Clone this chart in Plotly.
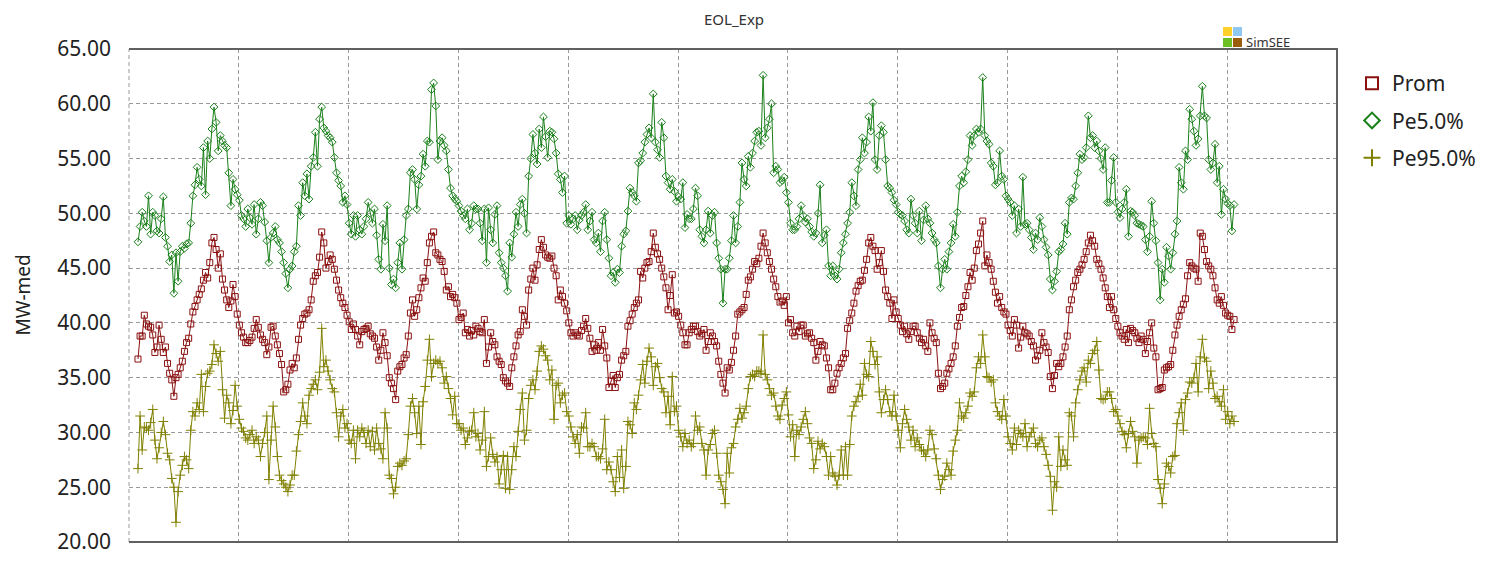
import plotly.graph_objects as go

# Weekly values, 10 years x 52 weeks (one row per year)
prom = [
    36.7, 38.8, 38.8, 40.7, 39.9, 39.7, 39.6, 38.9, 37.3, 37.8, 39.8, 38.5, 37.3, 37.8, 36.3, 35.4, 34.8, 33.3, 35.0, 35.3, 35.9, 36.5, 37.4, 38.2, 38.6, 39.9, 41.0, 41.5, 42.1, 42.6, 43.1, 43.9, 44.6, 44.1, 45.5, 47.3, 47.8, 46.7, 45.0, 46.3, 44.0, 43.0, 42.1, 41.4, 42.0, 43.5, 42.4, 40.8, 39.8, 39.1, 38.7, 38.2,
    38.2, 38.4, 38.7, 39.5, 40.3, 39.6, 38.9, 38.5, 38.2, 37.1, 37.8, 39.6, 39.7, 38.8, 38.0, 37.2, 36.2, 33.7, 33.9, 34.4, 35.7, 36.3, 35.9, 36.8, 38.5, 39.8, 40.4, 40.8, 40.9, 41.2, 42.1, 43.8, 44.3, 44.6, 46.0, 48.3, 47.3, 45.0, 45.6, 46.2, 45.8, 44.9, 43.9, 43.0, 42.3, 41.8, 41.4, 40.7, 40.1, 39.4, 39.9, 39.4,
    38.8, 38.0, 39.2, 39.4, 39.5, 39.7, 39.0, 38.8, 38.6, 37.8, 36.6, 37.5, 39.1, 38.2, 37.0, 35.0, 34.5, 34.0, 33.0, 35.6, 36.0, 36.2, 36.8, 37.1, 38.8, 40.9, 42.1, 40.6, 41.2, 42.3, 43.2, 44.1, 43.8, 45.5, 47.3, 47.9, 48.3, 46.4, 46.2, 45.8, 45.6, 44.7, 43.0, 43.3, 42.4, 42.6, 42.3, 41.8, 40.3, 40.5, 40.9, 39.1,
    39.4, 38.8, 39.3, 38.9, 39.7, 39.5, 39.2, 39.1, 40.3, 36.3, 37.8, 39.1, 38.3, 38.0, 36.9, 36.5, 36.2, 35.0, 34.7, 34.5, 34.2, 35.9, 36.9, 37.9, 38.9, 39.2, 41.2, 40.6, 39.8, 43.0, 44.0, 45.0, 43.9, 45.3, 46.7, 47.6, 46.9, 46.2, 46.0, 45.9, 46.1, 45.0, 44.3, 42.1, 43.0, 42.4, 41.8, 41.1, 40.0, 39.1, 38.8, 39.1,
    38.9, 38.8, 39.3, 39.7, 40.4, 39.5, 38.6, 37.4, 38.0, 37.5, 38.2, 37.5, 39.4, 37.9, 36.8, 34.1, 34.7, 35.2, 34.1, 35.0, 35.3, 36.6, 37.0, 37.4, 39.7, 40.2, 40.8, 41.4, 41.8, 42.1, 44.7, 44.1, 45.0, 45.5, 45.6, 46.5, 48.2, 46.9, 46.3, 45.8, 45.0, 44.2, 43.2, 41.2, 42.5, 44.4, 40.9, 41.0, 40.6, 39.8, 39.1, 38.0,
    38.0, 39.1, 39.4, 39.7, 39.7, 39.2, 38.8, 39.0, 39.4, 37.5, 38.3, 39.1, 38.8, 38.3, 37.9, 36.5, 35.3, 34.5, 33.6, 35.9, 35.7, 36.4, 37.5, 38.8, 40.8, 41.0, 41.2, 41.4, 42.6, 43.9, 44.2, 44.9, 45.6, 45.4, 45.9, 47.0, 48.2, 47.3, 46.4, 45.6, 44.9, 44.0, 43.3, 42.4, 41.9, 42.0, 41.6, 42.4, 40.0, 40.3, 39.1, 38.8,
    39.7, 39.2, 39.8, 39.8, 38.8, 39.0, 39.1, 38.6, 38.2, 36.6, 37.4, 38.3, 38.0, 37.9, 36.8, 35.9, 33.9, 33.9, 34.5, 35.4, 35.9, 36.3, 36.8, 37.2, 39.5, 40.2, 40.9, 41.8, 42.9, 43.4, 43.8, 43.9, 44.8, 45.8, 47.3, 47.8, 47.0, 46.6, 44.9, 45.5, 46.6, 44.7, 43.0, 42.4, 41.8, 40.4, 42.1, 41.0, 40.4, 39.8, 39.2, 39.7,
    39.0, 38.5, 39.2, 39.7, 39.7, 39.1, 38.6, 38.2, 38.5, 37.9, 37.4, 40.0, 39.1, 38.6, 38.2, 35.4, 34.0, 34.2, 34.5, 35.4, 35.8, 36.3, 36.9, 37.9, 39.7, 40.5, 41.4, 41.5, 42.5, 43.3, 44.6, 43.9, 45.0, 46.6, 47.2, 48.2, 49.3, 45.2, 46.2, 45.5, 44.9, 43.8, 42.8, 41.8, 42.4, 41.4, 41.0, 40.8, 39.8, 39.3, 38.8, 40.3,
    39.8, 37.7, 38.7, 39.7, 39.1, 39.0, 38.8, 38.3, 37.9, 36.6, 37.0, 37.5, 39.1, 38.2, 37.8, 37.3, 35.1, 34.0, 35.2, 36.3, 36.0, 36.3, 36.9, 37.8, 38.8, 41.2, 42.1, 43.3, 43.9, 44.6, 44.9, 45.3, 45.8, 46.5, 47.3, 48.0, 47.5, 47.0, 45.8, 45.4, 44.9, 44.1, 43.2, 42.4, 41.4, 42.4, 41.2, 40.4, 39.7, 39.1, 38.8, 38.5,
    39.4, 38.2, 39.5, 39.3, 39.1, 38.6, 38.2, 38.8, 38.5, 37.2, 38.3, 39.1, 40.0, 37.7, 36.9, 33.9, 34.0, 34.1, 35.7, 35.9, 36.0, 36.2, 37.5, 38.9, 39.8, 40.6, 41.2, 41.7, 42.2, 44.3, 45.5, 45.2, 45.0, 44.9, 43.8, 48.2, 47.9, 46.7, 45.6, 45.2, 44.9, 44.3, 43.2, 42.1, 41.8, 42.4, 41.6, 40.9, 40.7, 40.6, 39.4, 40.3,
]

pe5 = [
    47.4, 48.8, 50.1, 49.3, 48.8, 51.6, 48.1, 50.1, 49.8, 48.4, 48.2, 49.5, 51.5, 47.8, 47.0, 45.6, 46.2, 42.7, 46.4, 43.8, 46.5, 47.0, 46.8, 47.2, 47.3, 49.1, 51.6, 52.6, 54.2, 53.1, 52.5, 56.0, 51.7, 56.6, 55.0, 57.7, 59.7, 58.3, 55.7, 57.1, 56.6, 56.2, 56.0, 53.7, 50.7, 53.1, 52.2, 51.7, 51.2, 49.8, 49.5, 48.8,
    50.4, 49.6, 49.0, 50.8, 48.1, 49.5, 51.0, 50.7, 49.2, 47.5, 45.5, 47.8, 48.2, 48.8, 47.6, 47.3, 46.5, 45.5, 44.5, 43.2, 44.9, 45.2, 46.5, 47.0, 50.7, 49.8, 52.8, 51.6, 53.6, 51.3, 54.3, 55.1, 57.4, 54.3, 58.6, 59.7, 57.8, 57.5, 57.1, 56.9, 56.5, 55.1, 53.7, 53.0, 52.5, 51.0, 51.6, 50.8, 49.1, 48.1, 49.8, 47.9,
    49.8, 48.5, 48.1, 48.8, 49.5, 51.0, 50.0, 49.1, 50.4, 48.0, 45.8, 44.9, 49.0, 47.5, 50.7, 45.0, 43.5, 44.0, 43.2, 45.5, 47.3, 44.9, 47.6, 49.8, 50.4, 53.7, 54.0, 53.1, 50.4, 52.6, 53.4, 55.4, 54.3, 56.6, 56.5, 61.3, 61.9, 59.8, 54.9, 56.6, 56.9, 56.2, 55.7, 54.0, 52.3, 51.6, 51.3, 51.1, 50.7, 50.2, 49.8, 49.5,
    50.4, 48.5, 49.1, 50.7, 50.4, 50.4, 49.1, 47.5, 50.4, 45.5, 50.5, 48.5, 47.3, 49.9, 50.7, 46.4, 45.5, 45.0, 44.3, 42.9, 47.3, 46.0, 48.1, 50.1, 48.8, 50.8, 51.3, 50.0, 48.2, 53.4, 55.0, 57.2, 55.5, 54.5, 57.7, 56.0, 58.8, 57.0, 55.1, 57.5, 57.4, 56.8, 55.5, 53.6, 53.1, 51.9, 53.4, 49.1, 49.8, 49.0, 49.5, 49.8,
    48.5, 49.4, 49.8, 50.1, 50.8, 48.5, 49.3, 50.1, 47.6, 47.3, 48.2, 46.5, 49.3, 50.1, 47.6, 45.9, 44.3, 44.6, 43.7, 44.9, 44.6, 47.0, 48.1, 48.4, 50.2, 52.3, 51.9, 51.6, 51.1, 54.6, 54.8, 55.5, 56.5, 57.2, 57.8, 56.9, 60.9, 56.5, 55.8, 55.1, 58.3, 56.9, 53.4, 52.8, 52.2, 53.1, 52.0, 51.1, 51.5, 51.3, 52.8, 48.7,
    49.9, 49.5, 49.5, 50.4, 52.3, 51.6, 48.5, 47.9, 47.3, 48.5, 50.2, 48.2, 49.8, 50.1, 47.3, 45.9, 44.9, 41.8, 44.9, 44.9, 45.9, 47.5, 49.8, 47.3, 48.8, 51.0, 54.6, 53.1, 52.5, 55.2, 54.2, 55.5, 56.6, 57.4, 57.5, 56.2, 62.6, 56.9, 57.8, 58.6, 60.0, 53.7, 54.3, 54.0, 52.8, 53.0, 53.3, 51.9, 51.0, 49.1, 48.5, 48.5,
    48.8, 49.5, 50.7, 49.8, 49.2, 49.5, 48.8, 48.3, 47.9, 48.2, 50.0, 52.6, 47.3, 48.0, 48.5, 45.2, 44.3, 45.2, 44.3, 44.0, 44.9, 46.4, 47.3, 48.1, 49.1, 50.1, 52.8, 51.6, 50.7, 54.0, 54.9, 56.9, 55.5, 56.5, 58.8, 57.5, 60.1, 54.9, 54.0, 57.1, 58.0, 57.4, 54.9, 52.5, 52.3, 51.9, 51.2, 50.8, 50.1, 49.9, 49.8, 49.3,
    48.5, 48.2, 51.3, 49.8, 49.1, 48.2, 50.2, 47.5, 49.4, 50.7, 49.5, 49.1, 48.2, 47.6, 47.3, 45.2, 43.2, 44.9, 45.8, 44.9, 46.5, 47.3, 49.0, 47.9, 50.1, 52.5, 53.4, 52.8, 53.8, 54.9, 57.1, 56.2, 57.1, 57.7, 57.4, 57.7, 62.4, 57.1, 56.6, 56.3, 54.6, 54.3, 52.6, 52.8, 55.7, 53.4, 53.1, 51.6, 51.3, 51.0, 49.8, 50.7,
    48.2, 50.4, 48.8, 53.3, 49.0, 49.1, 48.5, 47.8, 46.7, 48.2, 47.6, 49.6, 48.8, 47.6, 46.9, 46.2, 44.0, 43.0, 43.8, 44.7, 46.5, 46.7, 47.2, 49.1, 48.1, 51.0, 51.4, 51.3, 52.5, 53.7, 55.4, 54.9, 55.1, 56.0, 58.9, 56.9, 57.1, 56.0, 56.6, 55.7, 55.0, 54.0, 56.0, 51.0, 51.0, 53.0, 55.1, 51.0, 50.1, 49.6, 50.4, 51.0,
    52.2, 47.9, 50.2, 50.1, 49.8, 49.1, 49.0, 48.9, 48.8, 47.6, 46.5, 47.9, 51.1, 49.1, 47.5, 45.5, 42.1, 44.9, 43.7, 46.9, 46.1, 44.9, 46.4, 48.1, 49.3, 54.2, 52.8, 52.2, 55.7, 54.9, 59.5, 58.6, 57.5, 56.2, 56.8, 58.9, 61.6, 58.9, 58.7, 54.9, 54.0, 54.6, 56.3, 52.8, 54.3, 49.9, 52.2, 51.3, 50.9, 50.7, 48.4, 50.8,
]

pe95 = [
    26.7, 31.5, 28.4, 30.5, 30.4, 30.2, 30.9, 32.1, 29.3, 27.6, 28.6, 30.0, 31.0, 29.8, 28.1, 27.5, 25.8, 25.0, 21.8, 24.6, 26.1, 27.0, 27.8, 27.5, 26.7, 30.2, 31.9, 31.5, 32.7, 32.1, 35.3, 31.9, 34.2, 35.4, 35.6, 36.2, 38.0, 37.2, 36.5, 37.4, 33.9, 31.3, 33.4, 32.7, 30.8, 32.0, 34.3, 32.4, 31.2, 30.4, 30.1, 29.5,
    29.3, 29.8, 30.2, 29.0, 29.6, 29.3, 27.8, 29.0, 30.0, 31.5, 25.7, 29.3, 32.4, 30.5, 27.8, 26.1, 25.6, 25.3, 25.0, 24.6, 25.2, 26.1, 26.1, 28.3, 29.8, 31.0, 32.7, 31.5, 30.8, 33.4, 34.0, 34.4, 34.8, 33.9, 35.5, 39.5, 36.0, 36.6, 35.6, 34.8, 34.0, 33.7, 31.8, 29.6, 31.5, 32.1, 30.4, 30.8, 29.3, 29.0, 30.2, 27.6,
    30.2, 29.6, 30.4, 30.0, 29.0, 30.2, 28.7, 30.1, 28.4, 30.4, 29.0, 28.5, 27.6, 31.8, 30.4, 26.1, 25.8, 24.4, 25.0, 26.9, 27.2, 27.0, 27.4, 27.6, 29.8, 32.4, 33.1, 31.8, 29.9, 32.4, 28.9, 32.8, 34.2, 36.6, 38.5, 35.1, 36.3, 36.6, 36.3, 36.5, 35.9, 34.5, 35.1, 34.0, 33.1, 31.6, 33.3, 30.8, 30.8, 30.2, 30.4, 28.9,
    29.5, 30.1, 30.2, 31.8, 29.6, 29.9, 28.4, 29.3, 31.9, 26.9, 27.8, 29.5, 28.0, 27.3, 27.8, 25.3, 26.6, 27.9, 24.9, 27.8, 24.8, 26.6, 28.7, 27.8, 30.1, 32.1, 33.6, 29.3, 30.2, 33.1, 34.3, 34.8, 33.9, 35.6, 37.4, 37.9, 37.6, 37.0, 36.6, 34.8, 35.7, 31.2, 34.3, 34.5, 32.7, 33.4, 33.6, 31.9, 31.5, 30.5, 29.6, 29.0,
    29.8, 28.1, 30.5, 30.4, 31.8, 28.7, 28.7, 29.0, 28.7, 27.8, 27.8, 27.6, 28.5, 31.2, 26.6, 27.3, 26.6, 25.5, 24.6, 27.8, 25.9, 28.4, 24.9, 26.9, 31.0, 30.7, 29.9, 32.7, 32.1, 33.4, 34.8, 36.2, 34.5, 36.5, 37.7, 36.9, 34.3, 36.0, 36.3, 35.0, 34.0, 33.7, 31.8, 33.3, 30.7, 35.1, 31.9, 32.4, 30.2, 29.6, 28.7, 29.9,
    29.0, 29.3, 28.7, 29.0, 31.5, 30.2, 30.5, 29.0, 28.4, 26.1, 28.4, 28.9, 29.9, 30.2, 28.1, 26.1, 25.5, 24.8, 23.5, 28.1, 26.3, 28.6, 29.0, 30.5, 31.2, 32.2, 31.3, 31.8, 32.4, 34.0, 35.1, 35.3, 35.1, 35.6, 35.6, 35.4, 38.9, 35.3, 34.8, 34.0, 33.4, 33.6, 32.4, 31.5, 31.2, 32.5, 33.1, 33.7, 31.6, 29.6, 30.7, 27.8,
    30.2, 29.8, 30.5, 31.2, 31.9, 30.8, 29.5, 29.0, 26.7, 27.5, 29.2, 28.5, 29.0, 28.7, 27.8, 26.1, 27.8, 26.3, 26.0, 25.2, 26.1, 28.4, 26.1, 28.7, 26.1, 28.9, 31.5, 32.4, 32.8, 33.3, 34.4, 33.4, 36.3, 35.3, 35.1, 38.3, 37.4, 36.2, 36.9, 33.7, 31.8, 33.0, 33.9, 33.0, 31.9, 31.5, 33.4, 31.5, 30.2, 28.6, 30.8, 32.1,
    31.2, 30.5, 29.3, 30.2, 28.7, 29.5, 28.9, 28.4, 28.3, 27.8, 28.4, 30.2, 29.8, 28.5, 27.6, 26.1, 24.8, 25.7, 26.0, 27.2, 26.6, 26.1, 28.3, 29.3, 30.2, 32.7, 31.5, 31.3, 31.8, 32.4, 33.6, 33.3, 33.7, 35.9, 36.9, 36.3, 38.9, 36.9, 35.1, 35.0, 34.6, 34.8, 32.7, 31.9, 31.5, 31.2, 33.0, 31.5, 29.6, 29.0, 28.4, 30.4,
    28.9, 30.2, 29.9, 29.6, 30.8, 28.7, 29.6, 30.0, 30.4, 29.0, 28.7, 29.3, 29.5, 28.7, 28.0, 27.0, 26.0, 22.9, 25.5, 25.0, 29.6, 26.9, 28.4, 27.5, 27.0, 31.8, 31.5, 29.6, 32.7, 33.9, 34.8, 35.6, 35.9, 34.6, 36.6, 36.3, 37.2, 37.5, 38.3, 35.7, 33.1, 33.0, 33.1, 33.7, 33.7, 33.1, 31.9, 32.1, 31.5, 30.8, 30.1, 29.8,
    28.6, 29.9, 31.0, 30.1, 29.6, 27.2, 29.3, 29.5, 29.6, 29.5, 28.9, 32.2, 29.9, 29.0, 28.7, 25.7, 24.9, 23.5, 25.3, 27.2, 26.9, 26.3, 27.8, 27.9, 30.8, 31.8, 32.7, 30.2, 33.0, 33.6, 34.6, 34.5, 35.0, 36.3, 33.7, 36.9, 38.5, 36.8, 36.5, 34.0, 35.6, 34.5, 33.1, 33.3, 32.8, 32.4, 33.9, 31.2, 31.9, 30.8, 31.5, 31.0,
]

series_names = ["Prom", "Pe5.0%", "Pe95.0%"]
series_colors = ["#8B1010", "#1A801A", "#808000"]
series_symbols = ["square-open", "diamond-open", "cross-thin-open"]
series_sizes = [6, 6, 7]
y_ticks = [20, 25, 30, 35, 40, 45, 50, 55, 60, 65]

weeks = list(range(len(prom)))
all_series = [prom, pe5, pe95]

OFF = 8  # page body offset in the browser
L, R, T, B = 129 - OFF, 1337 - OFF, 49 - OFF, 542 - OFF
PW, PH = R - L, B - T


def px(x):
    return (x - OFF - L) / PW


def py(y):
    return (B - (y - OFF)) / PH


fig = go.Figure()
for name, vals, col, sym, sz in zip(series_names, all_series, series_colors, series_symbols, series_sizes):
    fig.add_trace(go.Scatter(
        x=weeks, y=vals, mode="lines+markers", name=name, showlegend=False,
        line=dict(color=col, width=1),
        marker=dict(symbol=sym, size=sz, color=col, line=dict(color=col, width=1)),
        hoverinfo="skip",
    ))
# legend entries (marker only)
for name, col, sym in zip(series_names, series_colors, series_symbols):
    fig.add_trace(go.Scatter(
        x=[None], y=[None], mode="markers", name=name, legendgroup=name,
        marker=dict(symbol=sym, size=5, color=col, line=dict(color=col, width=2)),
    ))

grid = dict(showgrid=True, gridcolor="#9a9a9a", gridwidth=1, griddash="4px,3px", zeroline=False,
            automargin=False)

fig.update_layout(
    width=1492, height=561,
    margin=dict(l=L, r=1492 - R, t=T, b=561 - B, autoexpand=False),
    paper_bgcolor="white", plot_bgcolor="white",
    font=dict(family="Noto Sans, Open Sans, sans-serif", color="#222222"),
    xaxis=dict(range=[-4.25, 567.75], tick0=-4.25, dtick=52, showticklabels=False, ticks="", **grid),
    yaxis=dict(range=[20, 65], tickvals=y_ticks, tickformat=".2f", ticks="", ticklabelstandoff=17,
               tickfont=dict(size=21, color="#222222"), **grid),
    legend=dict(x=px(1352), y=py(63), xanchor="left", yanchor="top", font=dict(size=21, color="#222222"),
                traceorder="grouped", tracegroupgap=7, bgcolor="rgba(0,0,0,0)", itemsizing="constant",
                itemwidth=30),
    shapes=[
        dict(type="line", xref="paper", yref="paper", x0=0, x1=0, y0=0, y1=1,
             line=dict(color="#9a9a9a", width=1, dash="4px,3px"), layer="below"),
        dict(type="path", xref="paper", yref="paper", path="M 0 1 L 1 1 L 1 0 L 0 0",
             line=dict(color="#606060", width=2), layer="above"),
        dict(type="rect", xref="paper", yref="paper", x0=px(1223), x1=px(1232),
             y0=py(36), y1=py(27), fillcolor="#FFD02A", line=dict(width=0)),
        dict(type="rect", xref="paper", yref="paper", x0=px(1233), x1=px(1242),
             y0=py(36), y1=py(27), fillcolor="#8EC8F0", line=dict(width=0)),
        dict(type="rect", xref="paper", yref="paper", x0=px(1223), x1=px(1232),
             y0=py(47), y1=py(38), fillcolor="#6CC024", line=dict(width=0)),
        dict(type="rect", xref="paper", yref="paper", x0=px(1233), x1=px(1242),
             y0=py(47), y1=py(38), fillcolor="#9A5E0A", line=dict(width=0)),
    ],
    annotations=[
        dict(text="EOL_Exp", xref="paper", yref="paper", x=px(734), y=py(8), showarrow=False,
             xanchor="center", yanchor="top", borderpad=0, font=dict(size=15, color="#333333")),
        dict(text="MW-med", xref="paper", yref="paper", x=px(22), y=0.5, textangle=-90,
             showarrow=False, xanchor="center", yanchor="middle", font=dict(size=19, color="#222222")),
        dict(text="SimSEE", xref="paper", yref="paper", x=px(1244), y=py(42),
             showarrow=False, xanchor="left", yanchor="middle", font=dict(size=13, color="#333333")),
    ],
)

fig.write_html("out.html")
